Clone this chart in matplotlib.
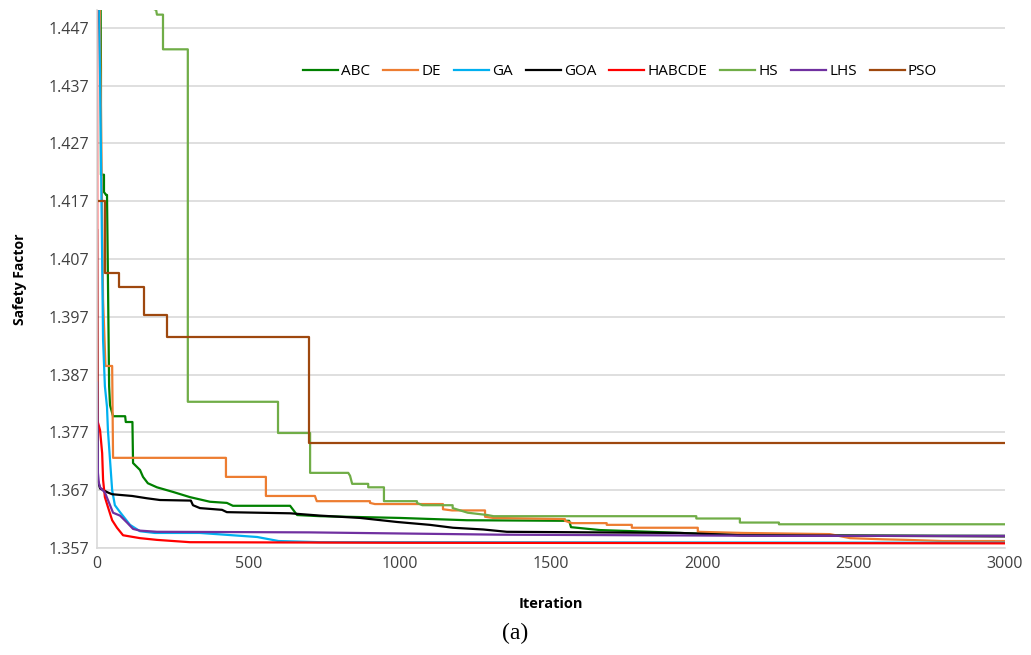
import matplotlib.pyplot as plt

# convergence histories: (iteration, safety factor) points,
# step corners written out explicitly
abc_it = [10, 13, 13, 23, 23, 30, 33, 40, 43, 53, 93, 95, 117, 119, 142, 152, 168, 198, 251, 307, 373, 429, 449, 638, 661, 737, 1000, 1222, 1560, 1566, 1662, 1827, 2130, 3000]
abc_sf = [1.470, 1.440, 1.4216, 1.4216, 1.4186, 1.4181, 1.4181, 1.3850, 1.3817, 1.3798, 1.3798, 1.3788, 1.3788, 1.3717, 1.3705, 1.3693, 1.3682, 1.3675, 1.3667, 1.3658, 1.3650, 1.3648, 1.3643, 1.3643, 1.3627, 1.3625, 1.3622, 1.3618, 1.3617, 1.3606, 1.3601, 1.3598, 1.3592, 1.3591]

de_it = [5, 20, 28, 50, 53, 426, 426, 558, 558, 720, 726, 902, 902, 918, 1143, 1143, 1173, 1282, 1282, 1309, 1546, 1546, 1569, 1684, 1684, 1767, 1767, 1985, 1985, 2134, 2421, 2488, 2597, 2676, 2795, 3000]
de_sf = [1.470, 1.400, 1.3885, 1.3885, 1.3726, 1.3726, 1.3693, 1.3693, 1.3660, 1.3660, 1.3651, 1.3651, 1.3648, 1.3646, 1.3646, 1.3637, 1.3635, 1.3635, 1.3624, 1.3622, 1.3620, 1.3617, 1.3613, 1.3613, 1.3610, 1.3610, 1.3605, 1.3605, 1.3598, 1.3596, 1.3594, 1.3587, 1.3585, 1.3584, 1.3582, 1.3582]

ga_it = [3, 10, 20, 26, 33, 36, 43, 50, 59, 76, 109, 142, 191, 340, 529, 600, 737, 3000]
ga_sf = [1.460, 1.439, 1.393, 1.385, 1.3814, 1.3774, 1.3722, 1.3670, 1.3644, 1.3632, 1.3610, 1.3599, 1.3596, 1.3596, 1.3589, 1.3582, 1.3580, 1.3579]

goa_it = [0, 2, 10, 36, 50, 116, 165, 208, 310, 317, 340, 413, 429, 638, 737, 869, 991, 1100, 1176, 1276, 1354, 1926, 2130, 3000]
goa_sf = [1.412, 1.3688, 1.3673, 1.3666, 1.3663, 1.3660, 1.3656, 1.3653, 1.3652, 1.3644, 1.3639, 1.3636, 1.3632, 1.3630, 1.3626, 1.3622, 1.3615, 1.3610, 1.3605, 1.3602, 1.3598, 1.3596, 1.3592, 1.3590]

habcde_it = [0, 1, 10, 17, 20, 26, 36, 50, 66, 86, 142, 198, 307, 1000, 3000]
habcde_sf = [1.470, 1.3791, 1.3774, 1.3734, 1.3688, 1.3658, 1.3641, 1.3618, 1.3605, 1.3592, 1.3587, 1.3584, 1.3580, 1.3579, 1.3578]

hs_it = [185, 190, 195, 198, 218, 218, 300, 300, 598, 598, 704, 704, 830, 836, 843, 896, 896, 948, 948, 1057, 1057, 1075, 1175, 1175, 1225, 1290, 1310, 1980, 1980, 2124, 2124, 2253, 2253, 3000]
hs_sf = [1.460, 1.4502, 1.4502, 1.4493, 1.4493, 1.4433, 1.4433, 1.3823, 1.3823, 1.3769, 1.3769, 1.3700, 1.3700, 1.3695, 1.3681, 1.3681, 1.3675, 1.3675, 1.3651, 1.3651, 1.3648, 1.3644, 1.3644, 1.3639, 1.3631, 1.3627, 1.3625, 1.3625, 1.3621, 1.3621, 1.3614, 1.3614, 1.3611, 1.3611]

lhs_it = [0, 3, 6, 10, 26, 43, 53, 76, 99, 119, 142, 198, 700, 1331, 2250, 3000]
lhs_sf = [1.3856, 1.3700, 1.3683, 1.3675, 1.3666, 1.3644, 1.3631, 1.3626, 1.3614, 1.3603, 1.3600, 1.3598, 1.3597, 1.3593, 1.3591, 1.3591]

pso_it = [0, 26, 26, 73, 73, 155, 155, 231, 231, 700, 700, 3000]
pso_sf = [1.4171, 1.4171, 1.4046, 1.4046, 1.4022, 1.4022, 1.3973, 1.3973, 1.3935, 1.3935, 1.3752, 1.3752]

series = [
    ("ABC", abc_it, abc_sf, "#008000"),
    ("DE", de_it, de_sf, "#ED7D31"),
    ("GA", ga_it, ga_sf, "#00B0F0"),
    ("GOA", goa_it, goa_sf, "#000000"),
    ("HABCDE", habcde_it, habcde_sf, "#FF0000"),
    ("HS", hs_it, hs_sf, "#70AD47"),
    ("LHS", lhs_it, lhs_sf, "#7030A0"),
    ("PSO", pso_it, pso_sf, "#9E480E"),
]

yticks = [1.357, 1.367, 1.377, 1.387, 1.397, 1.407, 1.417, 1.427, 1.437, 1.447]
xticks = [0, 500, 1000, 1500, 2000, 2500, 3000]

plt.rcParams['font.family'] = ['Open Sans', 'DejaVu Sans']

fig = plt.figure(figsize=(10.31, 6.55), dpi=100)
ax = fig.add_axes([0.0941, 0.1634, 0.8807, 0.8213])

for name, it, sf, col in series:
    ax.plot(it, sf, color=col, lw=1.6, label=name)

ax.set_xlim(0, 3000)
ax.set_ylim(1.357, 1.4501)
ax.set_xticks(xticks)
ax.set_yticks(yticks)
ax.set_yticklabels([f"{v:.3f}" for v in yticks], fontsize=11.5, color='#404040')
ax.set_xticklabels([str(v) for v in xticks], fontsize=11.5, color='#404040')
ax.tick_params(length=0, pad=6)
ax.grid(axis='y', color='#D9D9D9', lw=1.2)
ax.set_axisbelow(True)
for s in ['top', 'right']:
    ax.spines[s].set_visible(False)
for s in ['left', 'bottom']:
    ax.spines[s].set_color('#D9D9D9')
    ax.spines[s].set_linewidth(1.2)

ax.set_ylabel("Safety Factor", fontsize=10, fontweight='bold', labelpad=15)
ax.set_xlabel("Iteration", fontsize=10.5, fontweight='bold', labelpad=18)

ax.legend(loc='center', bbox_to_anchor=(0.576, 0.885), ncol=8, frameon=False,
          fontsize=11, handlelength=2.3, columnspacing=0.85, handletextpad=0.2)

fig.text(0.5, 0.033, "(a)", ha='center', va='center', fontsize=17, family='Liberation Serif')

fig.savefig("out.png", dpi=100)
